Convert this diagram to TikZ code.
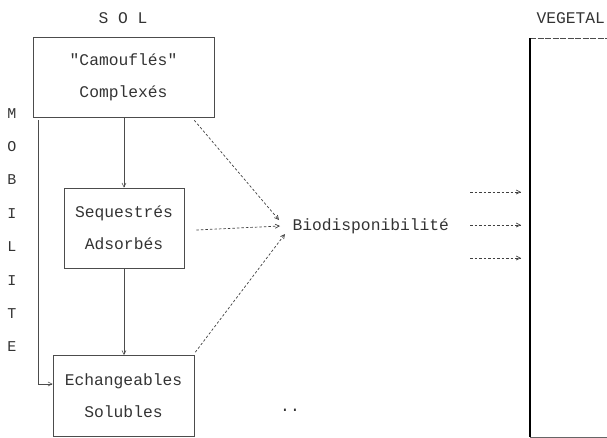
\documentclass[tikz,border=0pt]{standalone}
\usepackage{fontspec}
\setmainfont{Liberation Mono}[Ligatures=TeXOff]
\usetikzlibrary{arrows.meta,calc}
\begin{document}
\begin{tikzpicture}[x=1pt,y=-1pt,
  every node/.style={text=black!80},
  txt/.style={font=\fontsize{16.3}{32}\selectfont},
  box/.style={draw=black!70,line width=0.7pt,inner sep=0pt,align=center,font=\fontsize{16.3}{32}\selectfont},
  solidarrow/.style={draw=black!70,line width=0.6pt,-{Straight Barb[length=4pt,width=4pt]}},
  dotarrow/.style={draw=black!75,line width=0.7pt,dash pattern=on 2.5pt off 2pt,-{Straight Barb[length=4pt,width=4pt]}}
]
\useasboundingbox (0,0) rectangle (607,437);
\node[txt] (sol) at (123,18) {S O L};
\node[txt,anchor=west] (veg) at (533,18) {VEGETAL};
\node[box,minimum width=181pt,minimum height=80pt] (b1) at (123.5,77) {"Camouflés"\\Complexés};
\node[box,minimum width=120pt,minimum height=80pt] (b2) at (124,228) {Sequestrés\\Adsorbés};
\node[box,minimum width=141pt,minimum height=81pt] (b3) at (123.5,396) {Echangeables\\Solubles};
\node[txt,align=center,font=\fontsize{15}{33.4}\selectfont] (mob) at (12,230) {M\\O\\B\\I\\L\\I\\T\\E};
\node[txt,anchor=west] (bio) at (289,226) {Biodisponibilité};
\node[txt] (dots) at (290,410) {..};
% vegetal box
\coordinate (vtl) at (530,38);
\coordinate (vtr) at (607,38);
\coordinate (vbl) at (530,437);
\coordinate (vbr) at (607,437);
\draw[black!70,line width=0.6pt,dash pattern=on 6pt off 1.5pt] (vtl) -- (vtr);
\draw[black,line width=1.1pt] (vtl) -- (vbl);
\draw[black!60,line width=0.6pt] (vbl) -- (vbr);
% solid arrows
\draw[solidarrow] (b2.north |- b1.south) -- (b2.north);
\draw[solidarrow] (b2.south) -- (b2.south |- b3.north);
\draw[solidarrow] ([xshift=6pt,yshift=-3pt]b1.south west) |- ([yshift=12pt]b3.west);
% dotted arrows to biodisponibilite
\draw[dotarrow] ([xshift=-20pt,yshift=-3pt]b1.south east) -- ([xshift=-10pt,yshift=6pt]bio.west);
\draw[dotarrow] ([xshift=12pt,yshift=-2pt]b2.east) -- ([xshift=-9pt]bio.west);
\draw[dotarrow] ([xshift=1pt,yshift=3pt]b3.north east) -- ([xshift=-4pt,yshift=-8pt]bio.west);
% arrows to vegetal
\coordinate (a1s) at (470,192); \coordinate (a1e) at (521,192);
\coordinate (a2s) at (470,225); \coordinate (a2e) at (521,225);
\coordinate (a3s) at (470,258); \coordinate (a3e) at (521,258);
\draw[dotarrow] (a1s) -- (a1e);
\draw[dotarrow] (a2s) -- (a2e);
\draw[dotarrow] (a3s) -- (a3e);
\end{tikzpicture}
\end{document}
